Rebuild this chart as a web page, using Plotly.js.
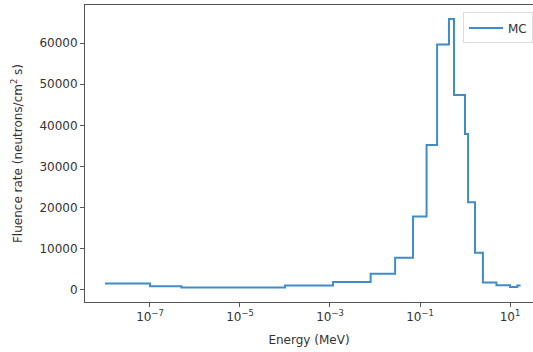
<!DOCTYPE html>
<html>
<head>
<meta charset="utf-8">
<script src="https://cdn.plot.ly/plotly-3.0.1.min.js"></script>
<style>html,body{margin:0;padding:0;background:#fff;}#chart{width:533px;height:352px;}</style>
</head>
<body>
<div id="chart"></div>
<script>
// Energy group edges (MeV) and fluence rate per group
const energyEdges = [1e-8, 1e-7, 5e-7, 1e-4, 1.17e-3, 8e-3, 0.028, 0.07, 0.14, 0.24, 0.44, 0.57, 1.0, 1.17, 1.67, 2.5, 5, 10, 14.5, 17.2];
const fluenceRate = [1500, 850, 550, 1000, 1850, 3900, 7800, 17800, 35200, 59700, 65900, 47400, 37900, 21300, 9000, 1750, 1100, 650, 1000];
const seriesName = "MC";
const xTickVals = [1e-7, 1e-5, 1e-3, 1e-1, 1e1];
const xTickText = ["10<sup>\u22127</sup>", "10<sup>\u22125</sup>", "10<sup>\u22123</sup>", "10<sup>\u22121</sup>", "10<sup>1</sup>"];
const yTickVals = [0, 10000, 20000, 30000, 40000, 50000, 60000];
const yTickText = ["0", "10000", "20000", "30000", "40000", "50000", "60000"];

const yStep = fluenceRate.concat([fluenceRate[fluenceRate.length - 1]]);

const trace = {
  x: energyEdges,
  y: yStep,
  type: "scatter",
  mode: "lines",
  line: {shape: "hv", color: "#3f8dc6", width: 2},
  name: seriesName,
  showlegend: true
};

const font = {family: "DejaVu Sans, sans-serif", size: 12, color: "#333"};

const layout = {
  width: 533, height: 352,
  margin: {l: 85, r: 0, t: 5, b: 50},
  paper_bgcolor: "#fff", plot_bgcolor: "#fff",
  font: font,
  showlegend: true,
  legend: {
    x: (463 - 85) / 448, y: 0.975, xref: "paper", xanchor: "left", yanchor: "top",
    bgcolor: "rgba(255,255,255,0.9)", bordercolor: "#ddd", borderwidth: 1,
    font: {family: "DejaVu Sans, sans-serif", size: 12, color: "#333"},
    itemwidth: 34,
    tracegroupgap: 0
  },
  xaxis: {
    type: "log",
    range: [-8.444, 1.511],
    tickvals: xTickVals, ticktext: xTickText,
    ticks: "outside", ticklen: 4, tickwidth: 1, tickcolor: "#555",
    showline: true, linecolor: "#555", linewidth: 1, mirror: true,
    showgrid: false, zeroline: false,
    tickfont: font,
    title: {text: "Energy (MeV)", font: font, standoff: 12}
  },
  yaxis: {
    range: [-3000, 69300],
    tickvals: yTickVals, ticktext: yTickText,
    ticks: "outside", ticklen: 4, tickwidth: 1, tickcolor: "#555",
    showline: true, linecolor: "#555", linewidth: 1,
    showgrid: false, zeroline: false,
    tickfont: font,
    title: {text: "Fluence rate (neutrons/cm<sup>2</sup> s)", font: font, standoff: 14}
  }
};

Plotly.newPlot("chart", [trace], layout, {staticPlot: true, displayModeBar: false});
</script>
</body>
</html>
